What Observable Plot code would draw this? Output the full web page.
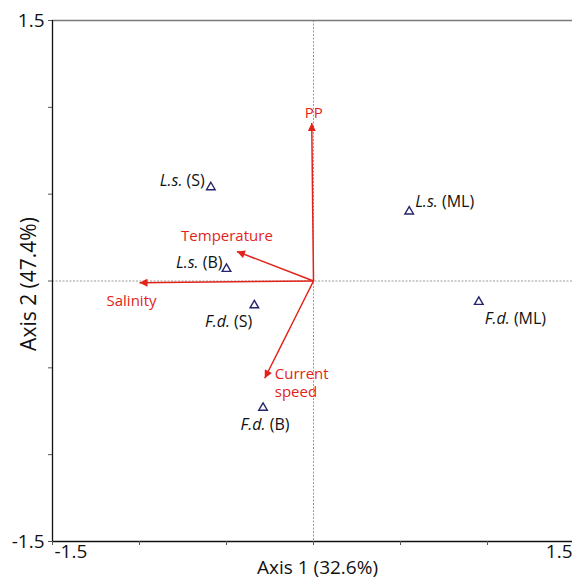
<!DOCTYPE html>
<html><head><meta charset="utf-8">
<script src="https://cdn.jsdelivr.net/npm/d3@7"></script>
<script src="https://cdn.jsdelivr.net/npm/@observablehq/plot@0.6"></script>
<style>
body{margin:0;background:#fff;}
#chart svg{display:block;overflow:visible;}
</style>
</head><body><div id="chart"></div>
<script>
// ---- data ----
const sampleNames = ["L.s. (S)", "L.s. (ML)", "L.s. (B)", "F.d. (S)", "F.d. (ML)", "F.d. (B)"];
const sampleAxis1 = [-0.59, 0.55, -0.50, -0.34, 0.95, -0.29];
const sampleAxis2 = [0.54, 0.40, 0.07, -0.14, -0.12, -0.73];
const vectorNames = ["PP", "Temperature", "Salinity", "Current\nspeed"];
const vectorAxis1 = [-0.01, -0.44, -1.00, -0.28];
const vectorAxis2 = [0.91, 0.17, -0.01, -0.56];
const axisTickValues = [-1.5, -1, -0.5, 0, 0.5, 1, 1.5];
const axisEndLabels = [-1.5, 1.5];
const xTitle = "Axis 1 (32.6%)";
const yTitle = "Axis 2 (47.4%)";

const samples = sampleNames.map((name, i) => ({name, a1: sampleAxis1[i], a2: sampleAxis2[i]}));
const vectors = vectorNames.map((name, i) => ({name, a1: vectorAxis1[i], a2: vectorAxis2[i]}));

// ---- label placement (layout only) ----
const samplePlacement = {
  "L.s. (S)":  {anchor: "end",    dx: -6, dy: -6},
  "L.s. (ML)": {anchor: "start",  dx: 6,  dy: -10},
  "L.s. (B)":  {anchor: "end",    dx: -4, dy: -6},
  "F.d. (S)":  {anchor: "end",    dx: -2, dy: 17},
  "F.d. (ML)": {anchor: "start",  dx: 6,  dy: 17},
  "F.d. (B)":  {anchor: "middle", dx: 2,  dy: 17}
};
const vectorPlacement = {
  "PP":             {anchor: "middle", dx: 2,   dy: -11},
  "Temperature":    {anchor: "middle", dx: -10, dy: -16},
  "Salinity":       {anchor: "middle", dx: -8,  dy: 17},
  "Current\nspeed": {anchor: "start",  dx: 10,  dy: 4}
};

const RED = "#e2231a";
const NAVY = "#25246b";
const FONT = "'Open Sans', 'Noto Sans', sans-serif";

const sampleLabelMarks = samples.map(s => {
  const p = samplePlacement[s.name];
  return Plot.text([s], {x: "a1", y: "a2", text: "name", textAnchor: p.anchor, dx: p.dx, dy: p.dy,
    fontSize: 16, fill: "#111"});
});
const vectorLabelMarks = vectors.map(v => {
  const p = vectorPlacement[v.name];
  return Plot.text([v], {x: "a1", y: "a2", text: "name", textAnchor: p.anchor, dx: p.dx, dy: p.dy,
    fontSize: 15, fill: RED, lineHeight: 1.2});
});

const chart = Plot.plot({
  width: 572,
  height: 581,
  marginLeft: 52,
  marginRight: 0,
  marginTop: 20,
  marginBottom: 40,
  style: {fontFamily: FONT, background: "#fff"},
  x: {domain: [-1.5, 1.5], range: [52, 574], axis: null},
  y: {domain: [-1.5, 1.5], range: [541, 20], axis: null},
  marks: [
    // zero lines
    Plot.ruleX([0], {stroke: "#9a9a9a", strokeWidth: 1, strokeDasharray: "2,1.5"}),
    Plot.ruleY([0], {stroke: "#9a9a9a", strokeWidth: 1, strokeDasharray: "2,1.5"}),
    // frame
    Plot.ruleY([1.5], {stroke: "#7a7a7a", strokeWidth: 1.5}),
    Plot.ruleX([-1.5], {stroke: "#111", strokeWidth: 1.3}),
    Plot.ruleY([-1.5], {stroke: "#111", strokeWidth: 1.3}),
    // ticks
    Plot.axisX({ticks: axisTickValues, tickSize: 4, tickFormat: () => "", label: null, stroke: "#555"}),
    Plot.axisY({ticks: axisTickValues, tickSize: 4, tickFormat: () => "", label: null, stroke: "#555"}),
    // end labels
    Plot.text(axisEndLabels.filter(d => d < 0), {x: d => d, frameAnchor: "bottom", textAnchor: "start", dx: 2, dy: 16, fontSize: 19, fill: "#111"}),
    Plot.text(axisEndLabels.filter(d => d > 0), {x: d => d, frameAnchor: "bottom", textAnchor: "end", dx: -2, dy: 16, fontSize: 19, fill: "#111"}),
    Plot.text(axisEndLabels, {y: d => d, frameAnchor: "left", textAnchor: "end", dx: -8, fontSize: 19, fill: "#111"}),
    // axis titles
    Plot.text([xTitle], {frameAnchor: "bottom", textAnchor: "middle", dx: 5, dy: 32, fontSize: 19, fill: "#111"}),
    Plot.text([yTitle], {frameAnchor: "left", textAnchor: "middle", rotate: -90, dx: -23, dy: 3, fontSize: 21, fill: "#111"}),
    // vectors
    Plot.link(vectors, {x1: d => 0, y1: d => 0, x2: "a1", y2: "a2", stroke: RED, strokeWidth: 1.5}),
    ...vectorLabelMarks,
    // samples
    Plot.dot(samples, {x: "a1", y: "a2", symbol: "triangle", r: 3.2, stroke: NAVY, fill: "#fff", strokeWidth: 1.4}),
    ...sampleLabelMarks
  ]
});

// filled arrowheads on vector links
const svg = d3.select(chart);
const defs = svg.insert("defs", ":first-child");
defs.append("marker")
  .attr("id", "vec-head")
  .attr("viewBox", "0 0 10 10")
  .attr("refX", 10).attr("refY", 5)
  .attr("markerUnits", "userSpaceOnUse")
  .attr("markerWidth", 11).attr("markerHeight", 8)
  .attr("orient", "auto")
  .append("path").attr("d", "M0,0L10,5L0,10Z").attr("fill", RED);
svg.selectAll("g[aria-label='link'] path").attr("marker-end", "url(#vec-head)");

// italic species abbreviations
svg.selectAll("text").each(function() {
  const t = this.textContent;
  const m = /^(L\.s\.|F\.d\.)(\s.*)$/.exec(t);
  if (m && this.children.length === 0) {
    this.textContent = "";
    d3.select(this).append("tspan").attr("font-style", "italic").text(m[1]);
    d3.select(this).append("tspan").text(m[2]);
  }
});

document.getElementById("chart").append(chart);
</script>
</body></html>
